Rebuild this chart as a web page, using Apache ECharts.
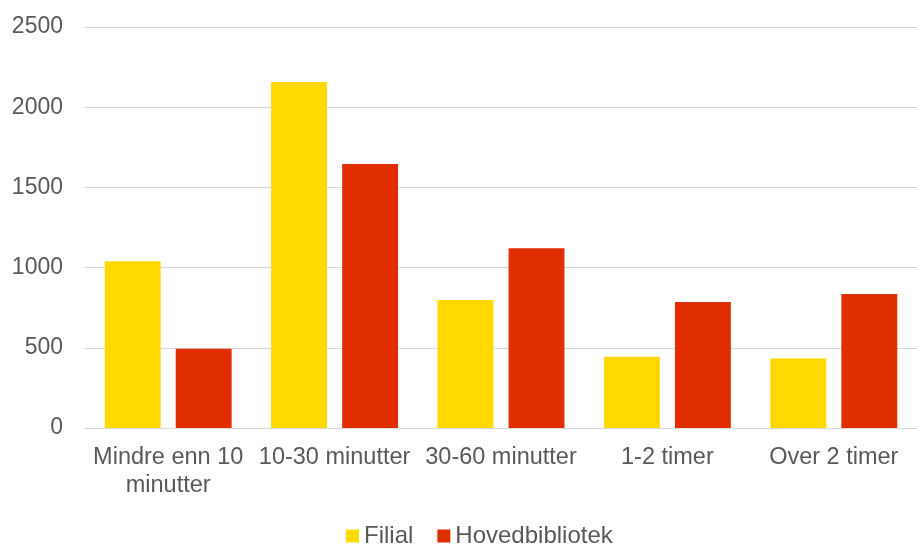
<!DOCTYPE html>
<html>
<head>
<meta charset="utf-8">
<script src="https://cdn.jsdelivr.net/npm/echarts@6/dist/echarts.min.js"></script>
<style>
  html, body { margin: 0; padding: 0; background: #fff; }
  #chart { width: 917px; height: 545px; }
</style>
</head>
<body>
<div id="chart"></div>
<script>
var categories = ["Mindre enn 10\nminutter", "10-30 minutter", "30-60 minutter", "1-2 timer", "Over 2 timer"];
var filial = [1040, 2157, 798, 444, 433];
var hovedbibliotek = [494, 1646, 1120, 786, 836];
var seriesNames = ["Filial", "Hovedbibliotek"];

var textColor = "#595959";
var font = "'Liberation Sans', Arial, sans-serif";

var myChart = echarts.init(document.getElementById("chart"));

var option = {
  animation: false,
  color: ["#FFD900", "#E02E00"],
  textStyle: { fontFamily: font },
  grid: {
    left: 85,
    right: 0,
    top: 27,
    bottom: 117
  },
  legend: {
    data: seriesNames,
    bottom: -8,
    left: 341,
    itemWidth: 13,
    itemHeight: 13,
    itemGap: 24,
    icon: "rect",
    textStyle: { color: textColor, fontSize: 24, fontFamily: font }
  },
  xAxis: {
    type: "category",
    data: categories,
    axisLine: { lineStyle: { color: "#d9d9d9", width: 1 } },
    axisTick: { show: false },
    axisLabel: {
      color: textColor,
      fontSize: 23.5,
      fontFamily: font,
      lineHeight: 28,
      margin: 16,
      interval: 0
    }
  },
  yAxis: {
    type: "value",
    min: 0,
    max: 2500,
    interval: 500,
    axisLine: { show: false },
    axisTick: { show: false },
    splitLine: { lineStyle: { color: "#d9d9d9", width: 1 } },
    axisLabel: {
      color: textColor,
      fontSize: 23,
      fontFamily: font,
      margin: 22,
      formatter: function (v) { return String(v); }
    }
  },
  series: [
    {
      name: seriesNames[0],
      type: "bar",
      data: filial,
      barWidth: "33.6%",
      barGap: "27%"
    },
    {
      name: seriesNames[1],
      type: "bar",
      data: hovedbibliotek,
      barWidth: "33.6%",
      barGap: "27%"
    }
  ]
};

myChart.setOption(option);
</script>
</body>
</html>
